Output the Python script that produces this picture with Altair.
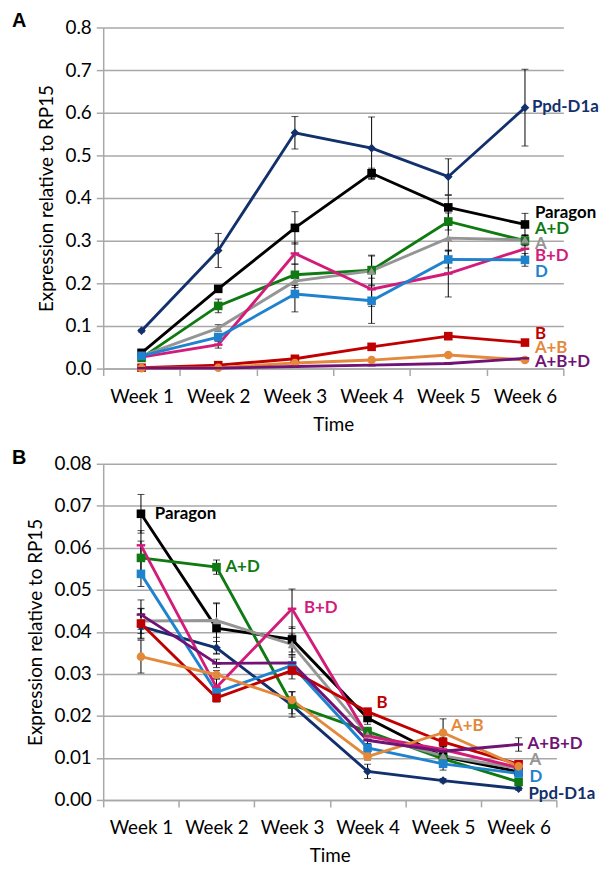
import altair as alt
import pandas as pd

weeks = ["Week 1", "Week 2", "Week 3", "Week 4", "Week 5", "Week 6"]
series = ["Ppd-D1a", "Paragon", "A+D", "A", "B+D", "D", "B", "A+B", "A+B+D"]
colors = ["#12306B", "#000000", "#0F7A12", "#959595", "#D31C7A",
          "#1F82CF", "#C00000", "#E2893C", "#711275"]
dash = "M-1,-0.28L1,-0.28L1,0.28L-1,0.28Z"
shapes = ["diamond", "square", "square", "triangle-up", dash,
          "square", "square", "circle", dash]

# Panel A values
a_values = {
    "Ppd-D1a": [0.089, 0.277, 0.553, 0.517, 0.450, 0.612],
    "Paragon": [0.037, 0.187, 0.330, 0.458, 0.378, 0.338],
    "A+D":     [0.025, 0.147, 0.220, 0.231, 0.345, 0.300],
    "A":       [0.030, 0.095, 0.205, 0.229, 0.306, 0.302],
    "B+D":     [0.027, 0.056, 0.270, 0.186, 0.223, 0.281],
    "D":       [0.030, 0.074, 0.175, 0.159, 0.256, 0.255],
    "B":       [0.002, 0.008, 0.023, 0.051, 0.076, 0.061],
    "A+B":     [0.001, 0.002, 0.013, 0.020, 0.032, 0.020],
    "A+B+D":   [0.001, 0.001, 0.005, 0.008, 0.012, 0.024],
}
a_errors = {
    "Ppd-D1a": [0.003, 0.040, 0.038, 0.073, 0.042, 0.090],
    "Paragon": [0.004, 0.008, 0.038, 0.012, 0.028, 0.026],
    "A+D":     [0.004, 0.016, 0.025, 0.035, 0.020, 0.012],
    "A":       [0.004, 0.008, 0.015, 0.035, 0.030, 0.012],
    "B+D":     [0.004, 0.008, 0.025, 0.040, 0.055, 0.030],
    "D":       [0.004, 0.008, 0.042, 0.053, 0.020, 0.015],
    "B":       [0.001, 0.002, 0.003, 0.003, 0.005, 0.004],
    "A+B":     [0.001, 0.001, 0.002, 0.002, 0.003, 0.002],
    "A+B+D":   [0.001, 0.001, 0.001, 0.001, 0.002, 0.002],
}
# Panel B values
b_values = {
    "Ppd-D1a": [0.0413, 0.0362, 0.0225, 0.0068, 0.0046, 0.0027],
    "Paragon": [0.0681, 0.0409, 0.0382, 0.0195, 0.0103, 0.0067],
    "A+D":     [0.0576, 0.0554, 0.0227, 0.0163, 0.0098, 0.0043],
    "A":       [0.0426, 0.0427, 0.0370, 0.0155, 0.0105, 0.0075],
    "B+D":     [0.0606, 0.0268, 0.0455, 0.0152, 0.0120, 0.0077],
    "D":       [0.0538, 0.0256, 0.0320, 0.0124, 0.0086, 0.0063],
    "B":       [0.0420, 0.0243, 0.0308, 0.0210, 0.0138, 0.0085],
    "A+B":     [0.0341, 0.0298, 0.0238, 0.0103, 0.0160, 0.0080],
    "A+B+D":   [0.0441, 0.0325, 0.0326, 0.0142, 0.0116, 0.0132],
}
b_errors = {
    "Ppd-D1a": [0.0030, 0.0015, 0.0020, 0.0017, 0.0005, 0.0004],
    "Paragon": [0.0046, 0.0060, 0.0030, 0.0015, 0.0010, 0.0006],
    "A+D":     [0.0040, 0.0017, 0.0030, 0.0010, 0.0010, 0.0005],
    "A":       [0.0030, 0.0040, 0.0025, 0.0010, 0.0010, 0.0006],
    "B+D":     [0.0035, 0.0020, 0.0047, 0.0010, 0.0010, 0.0006],
    "D":       [0.0030, 0.0015, 0.0020, 0.0010, 0.0015, 0.0006],
    "B":       [0.0035, 0.0010, 0.0020, 0.0008, 0.0010, 0.0006],
    "A+B":     [0.0039, 0.0010, 0.0020, 0.0008, 0.0033, 0.0006],
    "A+B+D":   [0.0035, 0.0010, 0.0020, 0.0008, 0.0010, 0.0016],
}

# where each series label sits (index into weeks) and its pixel nudge
a_label_week = {s: 5 for s in series}
a_label_nudge = {
    "Ppd-D1a": (7, -1), "Paragon": (10, -12), "A+D": (10, -12), "A": (10, 4),
    "B+D": (10, 7), "D": (10, 12), "B": (10, -9), "A+B": (10, -12), "A+B+D": (10, 4),
}
b_label_week = {"Paragon": 0, "A+D": 1, "B+D": 2, "B": 3, "A+B": 4,
                "A+B+D": 5, "A": 5, "D": 5, "Ppd-D1a": 5}
b_label_nudge = {
    "Paragon": (14, 0), "A+D": (9, 0), "B+D": (12, -1), "B": (9, -9),
    "A+B": (8, -7), "A+B+D": (9, 0), "A": (11, -8), "D": (11, 4), "Ppd-D1a": (10, 5),
}

FONT = "Lato"
GRID = "#A8A8A8"


def frame(values, errors):
    rows = []
    for s in series:
        for i, w in enumerate(weeks):
            rows.append({"series": s, "week": w, "value": values[s][i],
                         "err": errors[s][i]})
    return pd.DataFrame(rows)


def panel(values, errors, ymax, step, fmt, width, height, letter, letter_x,
          label_week, label_nudge):
    df = frame(values, errors)
    xenc = alt.X("week:N", sort=weeks,
                 scale=alt.Scale(paddingInner=0, paddingOuter=0),
                 axis=alt.Axis(title="Time", labelAngle=0, tickBand="extent",
                               tickSize=7, tickColor=GRID, domainColor=GRID,
                               domainWidth=1.5, tickWidth=1.5,
                               labelPadding=12, titlePadding=9, grid=False))
    nticks = int(round(ymax / step))
    yscale = alt.Scale(domain=[0, ymax], nice=False)
    yaxis = alt.Axis(title="Expression relative to RP15",
                     values=[round(step * k, 4) for k in range(nticks + 1)],
                     format=fmt, tickSize=7, tickColor=GRID, domainColor=GRID,
                     domainWidth=1.5, tickWidth=1.5, gridColor=GRID,
                     gridWidth=1.5, labelPadding=5, titlePadding=9)
    color = alt.Color("series:N", scale=alt.Scale(domain=series, range=colors),
                      legend=None)
    base = alt.Chart(df)
    err_rule = base.transform_calculate(
        lo="datum.value - datum.err", hi="datum.value + datum.err"
    ).mark_rule(color="#000000", strokeWidth=1).encode(
        x=xenc, y=alt.Y("lo:Q", scale=yscale, axis=yaxis), y2="hi:Q")
    cap_lo = base.transform_calculate(lo="datum.value - datum.err").mark_tick(
        color="#000000", thickness=1, size=7).encode(
        x=xenc, y=alt.Y("lo:Q", scale=yscale, axis=yaxis))
    cap_hi = base.transform_calculate(hi="datum.value + datum.err").mark_tick(
        color="#000000", thickness=1, size=7).encode(
        x=xenc, y=alt.Y("hi:Q", scale=yscale, axis=yaxis))
    lines = base.mark_line(strokeWidth=2.9).encode(
        x=xenc, y=alt.Y("value:Q", scale=yscale, axis=yaxis), color=color)
    points = base.mark_point(filled=True, size=75, opacity=1).encode(
        x=xenc, y=alt.Y("value:Q", scale=yscale, axis=yaxis), color=color,
        shape=alt.Shape("series:N",
                        scale=alt.Scale(domain=series, range=shapes),
                        legend=None))
    layers = [err_rule, cap_lo, cap_hi, lines, points]
    for s, c in zip(series, colors):
        dx, dy = label_nudge[s]
        wk = weeks[label_week[s]]
        layers.append(
            base.transform_filter(
                (alt.datum.series == s) & (alt.datum.week == wk)
            ).mark_text(align="left", baseline="middle", dx=dx, dy=dy,
                        font=FONT, fontSize=17, fontWeight="bold", color=c
                        ).encode(x=xenc,
                                 y=alt.Y("value:Q", scale=yscale, axis=yaxis),
                                 text="series:N"))
    layers.append(
        alt.Chart(pd.DataFrame({"t": [letter]})).mark_text(
            align="left", baseline="bottom", font="Liberation Sans",
            fontSize=20, fontWeight="bold", color="#000000"
        ).encode(x=alt.value(letter_x), y=alt.value(4), text="t:N"))
    return alt.layer(*layers).properties(width=width, height=height)


chart_a = panel(a_values, a_errors, 0.8, 0.1, ".1f", 464, 344, "A", -92,
                a_label_week, a_label_nudge)
chart_b = panel(b_values, b_errors, 0.08, 0.01, ".2f", 457, 339, "B", -92,
                b_label_week, b_label_nudge)

chart = alt.vconcat(chart_a, chart_b, spacing=14).properties(
    padding={"left": 4, "top": 0, "right": 2, "bottom": 0}
).configure_view(stroke=None).configure_axis(
    labelFont=FONT, titleFont=FONT, labelFontSize=19, titleFontSize=19,
    labelColor="#000000", titleColor="#000000", titleFontWeight="normal"
)

chart.save("out.html", embed_options={"renderer": "svg", "actions": False})
